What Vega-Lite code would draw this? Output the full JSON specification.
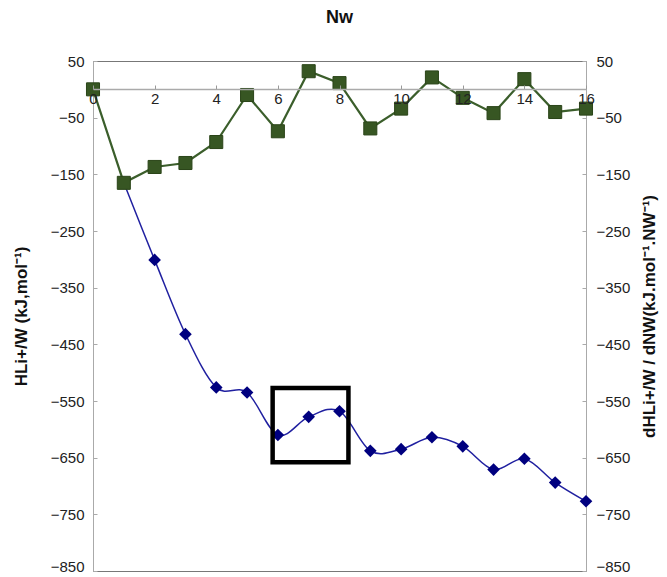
{
  "$schema": "https://vega.github.io/schema/vega-lite/v6.json",
  "width": 493,
  "height": 510,
  "autosize": "none",
  "padding": {"left": 93, "top": 61, "right": 87, "bottom": 6},
  "background": "white",
  "config": {
    "font": "Liberation Sans",
    "view": {"stroke": "#777", "strokeWidth": 1},
    "axis": {"grid": false}
  },
  "title": {"text": "Nᴡ", "fontSize": 18, "fontWeight": "bold", "color": "#111", "anchor": "middle", "offset": 27, "font": "Liberation Sans"},
  "datasets": {
    "h": [
      {"n": 1, "h": -165}, {"n": 2, "h": -301}, {"n": 3, "h": -432}, {"n": 4, "h": -526},
      {"n": 5, "h": -535}, {"n": 6, "h": -610}, {"n": 7, "h": -578}, {"n": 8, "h": -568},
      {"n": 9, "h": -638}, {"n": 10, "h": -635}, {"n": 11, "h": -614}, {"n": 12, "h": -630},
      {"n": 13, "h": -671}, {"n": 14, "h": -652}, {"n": 15, "h": -694}, {"n": 16, "h": -727}
    ],
    "dh": [
      {"n": 0, "dh": 0}, {"n": 1, "dh": -165}, {"n": 2, "dh": -137}, {"n": 3, "dh": -130},
      {"n": 4, "dh": -93}, {"n": 5, "dh": -10}, {"n": 6, "dh": -74}, {"n": 7, "dh": 32},
      {"n": 8, "dh": 11}, {"n": 9, "dh": -69}, {"n": 10, "dh": -34}, {"n": 11, "dh": 21},
      {"n": 12, "dh": -15}, {"n": 13, "dh": -42}, {"n": 14, "dh": 18}, {"n": 15, "dh": -40},
      {"n": 16, "dh": -34}
    ],
    "box": [{"x1": 5.83, "x2": 8.29, "y1": -527, "y2": -658}]
  },
  "resolve": {"scale": {"y": "independent"}},
  "layer": [
    {
      "data": {"name": "h"},
      "layer": [
        {
          "mark": {"type": "line", "interpolate": "cardinal", "color": "#2020a0", "strokeWidth": 1.5},
          "encoding": {
            "x": {
              "field": "n", "type": "quantitative",
              "scale": {"domain": [0, 16], "nice": false, "zero": false},
              "axis": {
                "orient": "bottom", "offset": -482, "title": null,
                "values": [0, 2, 4, 6, 8, 10, 12, 14, 16],
                "domainColor": "#aaa", "domainWidth": 1.5,
                "tickColor": "#999", "tickSize": -4,
                "labelFontSize": 15, "labelColor": "#222", "labelPadding": 6,
                "labelFlush": false, "zindex": 2
              }
            },
            "y": {
              "field": "h", "type": "quantitative",
              "scale": {"domain": [-850, 50], "nice": false, "zero": false},
              "axis": {
                "orient": "left", "title": "HLi+/W  (kJ,mol⁻¹)",
                "titleFontSize": 17, "titleFontWeight": "bold", "titleColor": "#111",
                "titlePadding": 20,
                "values": [50, -50, -150, -250, -350, -450, -550, -650, -750, -850],
                "domainColor": "#aaa", "tickColor": "#aaa", "tickSize": -4,
                "labelFontSize": 15, "labelColor": "#222", "labelPadding": 13,
                "labelBaseline": {"expr": "datum.value == -850 ? 'alphabetic' : 'middle'"}
              }
            }
          }
        },
        {
          "mark": {"type": "point", "shape": "diamond", "filled": true, "size": 160, "color": "#00007f", "opacity": 1},
          "encoding": {
            "x": {"field": "n", "type": "quantitative"},
            "y": {"field": "h", "type": "quantitative"}
          }
        },
        {
          "data": {"name": "box"},
          "mark": {"type": "rect", "fill": null, "stroke": "black", "strokeWidth": 4.5},
          "encoding": {
            "x": {"field": "x1", "type": "quantitative"},
            "x2": {"field": "x2"},
            "y": {"field": "y1", "type": "quantitative"},
            "y2": {"field": "y2"}
          }
        }
      ]
    },
    {
      "data": {"name": "dh"},
      "layer": [
        {
          "mark": {"type": "line", "color": "#3b5e2b", "strokeWidth": 2.2},
          "encoding": {
            "x": {"field": "n", "type": "quantitative"},
            "y": {
              "field": "dh", "type": "quantitative",
              "scale": {"domain": [-850, 50], "nice": false, "zero": false},
              "axis": {
                "orient": "right", "title": "dHLi+/W  / dNW(kJ.mol⁻¹.NW⁻¹)",
                "titleAngle": 270,
                "titleFontSize": 17, "titleFontWeight": "bold", "titleColor": "#111",
                "titlePadding": 29,
                "values": [50, -50, -150, -250, -350, -450, -550, -650, -750, -850],
                "domainColor": "#aaa", "tickColor": "#aaa", "tickSize": -4,
                "labelFontSize": 15, "labelColor": "#222", "labelPadding": 14,
                "labelBaseline": {"expr": "datum.value == -850 ? 'alphabetic' : 'middle'"}
              }
            }
          }
        },
        {
          "mark": {"type": "square", "size": 170, "color": "#375623", "stroke": "#2a4418", "strokeWidth": 1, "opacity": 1},
          "encoding": {
            "x": {"field": "n", "type": "quantitative"},
            "y": {"field": "dh", "type": "quantitative"}
          }
        }
      ]
    }
  ]
}
